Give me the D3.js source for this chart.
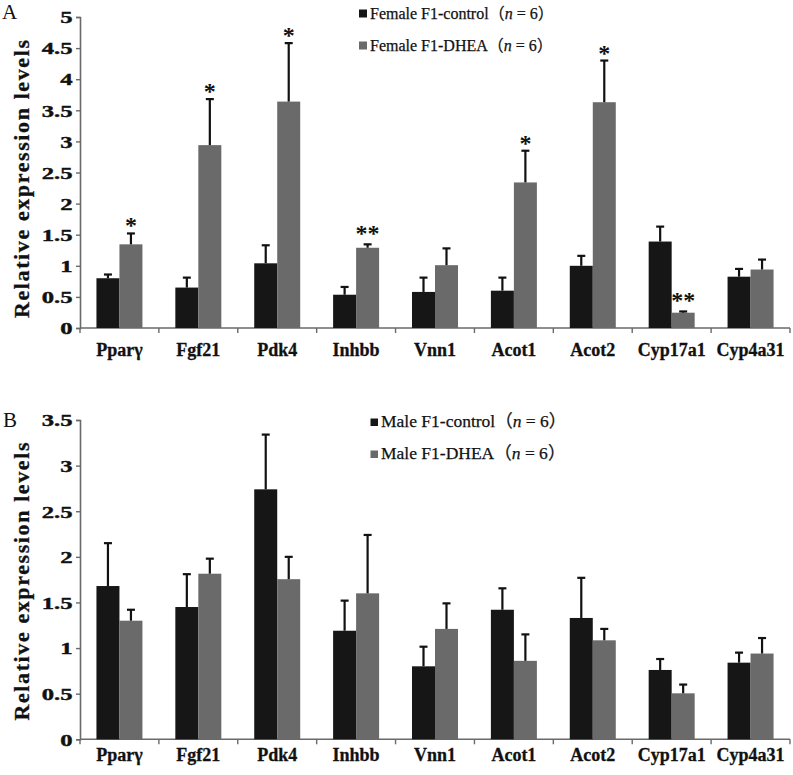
<!DOCTYPE html>
<html>
<head>
<meta charset="utf-8">
<script src="https://cdn.jsdelivr.net/npm/d3@7"></script>
<style>
  html, body { margin: 0; padding: 0; background: #fff; }
  svg { display: block; }
</style>
</head>
<body>
<svg id="chart" width="793" height="775"></svg>
<script>
// ---------------- data ----------------
const categories = ["Pparγ", "Fgf21", "Pdk4", "Inhbb", "Vnn1", "Acot1", "Acot2", "Cyp17a1", "Cyp4a31"];

// Panel A (female)
const femaleControl    = [0.80, 0.65, 1.04, 0.535, 0.58, 0.60, 1.00, 1.39, 0.825];
const femaleControlErr = [0.06, 0.16, 0.29, 0.125, 0.23, 0.21, 0.16, 0.24, 0.125];
const femaleDHEA       = [1.345, 2.94, 3.64, 1.29, 1.01, 2.34, 3.63, 0.246, 0.94];
const femaleDHEAErr    = [0.175, 0.74, 0.94, 0.055, 0.27, 0.51, 0.67, 0.02, 0.16];
const femaleStars      = ["*", "*", "*", "**", "", "*", "*", "**", ""];
const femaleTicks      = [0, 0.5, 1, 1.5, 2, 2.5, 3, 3.5, 4, 4.5, 5];
const femaleLegend     = ["Female F1-control", "Female F1-DHEA"];

// Panel B (male)
const maleControl    = [1.68, 1.45, 2.74, 1.19, 0.80, 1.42, 1.33, 0.76, 0.84];
const maleControlErr = [0.47, 0.36, 0.60, 0.33, 0.215, 0.235, 0.44, 0.12, 0.11];
const maleDHEA       = [1.30, 1.815, 1.755, 1.60, 1.21, 0.86, 1.085, 0.504, 0.94];
const maleDHEAErr    = [0.12, 0.165, 0.245, 0.64, 0.28, 0.29, 0.125, 0.096, 0.17];
const maleStars      = ["", "", "", "", "", "", "", "", ""];
const maleTicks      = [0, 0.5, 1, 1.5, 2, 2.5, 3, 3.5];
const maleLegend     = ["Male F1-control", "Male F1-DHEA"];

const sampleN = 6;
const yTitle = "Relative expression levels";

// ---------------- drawing ----------------
const svg = d3.select("#chart");
const SERIF = "'Liberation Serif', 'Times New Roman', serif";
const CJK = "'Liberation Serif', 'Noto Sans CJK SC', serif";
const colors = ["#161616", "#6a6a6a"];
const axisColor = "#6a6a6a";

function drawPanel(cfg) {
  const g = svg.append("g");
  const x = d3.scaleBand().domain(categories).range([80, 790])
    .paddingInner(0.417).paddingOuter(0.2085);
  const xs = d3.scaleBand().domain([0, 1]).range([0, x.bandwidth()]);
  const y = d3.scaleLinear().domain([0, cfg.ymax]).range([cfg.y0, cfg.y1]);

  // y axis
  const yAxis = g.append("g").attr("transform", "translate(80,0)")
    .call(d3.axisLeft(y).tickValues(cfg.ticks).tickSize(4).tickPadding(0)
      .tickFormat(d => String(d)));
  yAxis.select(".domain").attr("stroke", axisColor).attr("stroke-width", 1.6);
  yAxis.selectAll(".tick line").attr("stroke", axisColor).attr("stroke-width", 1.4);
  yAxis.selectAll(".tick text")
    .attr("fill", "#111").attr("font-family", SERIF).attr("font-weight", "bold")
    .attr("font-size", 17).attr("x", -7.5 / 1.45).attr("dy", "0.34em")
    .attr("stroke", "#111").attr("stroke-width", 0.4)
    .attr("transform", "scale(1.45,1)");

  // x axis line + boundary ticks
  const step = x.step();
  const half = (step - x.bandwidth()) / 2;
  const bounds = categories.map(c => x(c) - half).concat([x(categories[categories.length - 1]) + x.bandwidth() + half]);
  g.append("line").attr("x1", 80).attr("x2", bounds[bounds.length - 1])
    .attr("y1", y(0)).attr("y2", y(0)).attr("stroke", axisColor).attr("stroke-width", 1.6);
  g.selectAll(".xb").data(bounds).join("line")
    .attr("x1", d => d).attr("x2", d => d)
    .attr("y1", y(0)).attr("y2", y(0) + 5)
    .attr("stroke", axisColor).attr("stroke-width", 1.4);
  g.selectAll(".xl").data(categories).join("text")
    .attr("x", d => x(d) + x.bandwidth() / 2)
    .attr("y", y(0) + cfg.labelOff)
    .attr("text-anchor", "middle")
    .attr("font-family", SERIF).attr("font-weight", "bold").attr("font-size", 18)
    .attr("stroke", "#111").attr("stroke-width", 0.3)
    .attr("fill", "#111").text(d => d);

  // bars
  const series = [
    { vals: cfg.control, errs: cfg.controlErr },
    { vals: cfg.dhea, errs: cfg.dheaErr }
  ];
  series.forEach((s, si) => {
    const rows = categories.map((c, i) => ({ c, v: s.vals[i], e: s.errs[i] }));
    g.selectAll(".bar" + si).data(rows).join("rect")
      .attr("x", d => x(d.c) + xs(si))
      .attr("width", xs.bandwidth())
      .attr("y", d => y(d.v))
      .attr("height", d => y(0) - y(d.v))
      .attr("fill", colors[si]);
    // error bars (upper only)
    g.selectAll(".err" + si).data(rows).join("line")
      .attr("x1", d => x(d.c) + xs(si) + xs.bandwidth() / 2)
      .attr("x2", d => x(d.c) + xs(si) + xs.bandwidth() / 2)
      .attr("y1", d => y(d.v)).attr("y2", d => y(d.v + d.e))
      .attr("stroke", "#111").attr("stroke-width", 2.2);
    g.selectAll(".cap" + si).data(rows).join("line")
      .attr("x1", d => x(d.c) + xs(si) + xs.bandwidth() / 2 - 4)
      .attr("x2", d => x(d.c) + xs(si) + xs.bandwidth() / 2 + 4)
      .attr("y1", d => y(d.v + d.e)).attr("y2", d => y(d.v + d.e))
      .attr("stroke", "#111").attr("stroke-width", 2.2);
  });

  // significance stars (on DHEA bars)
  const starRows = categories.map((c, i) => ({ c, s: cfg.stars[i], top: cfg.dhea[i] + cfg.dheaErr[i] }))
    .filter(d => d.s);
  g.selectAll(".star").data(starRows).join("text")
    .attr("x", d => x(d.c) + xs(1) + xs.bandwidth() / 2)
    .attr("y", d => y(d.top) - (d.s.length > 1 ? 3 : 0))
    .attr("text-anchor", "middle")
    .attr("font-family", SERIF).attr("font-weight", "bold").attr("font-size", 24)
    .attr("fill", "#111").text(d => d.s);

  // y title
  g.append("text")
    .attr("transform", `translate(28.5,${cfg.titleY}) rotate(-90)`)
    .attr("text-anchor", "middle")
    .attr("font-family", SERIF).attr("font-weight", "bold").attr("font-size", 22)
    .attr("textLength", 278).attr("lengthAdjust", "spacing")
    .attr("stroke", "#111").attr("stroke-width", 0.3)
    .attr("fill", "#111").text(yTitle);

  // panel letter
  g.append("text").attr("x", cfg.letterX).attr("y", cfg.letterY)
    .attr("font-family", SERIF).attr("font-size", 21).attr("fill", "#111")
    .text(cfg.letter);

  // legend
  cfg.legend.forEach((name, i) => {
    const ly = cfg.legY[i];
    g.append("rect").attr("x", cfg.legX).attr("y", ly - cfg.sq - 1)
      .attr("width", cfg.sq).attr("height", cfg.sq).attr("fill", colors[i]);
    const t = g.append("text").attr("x", cfg.legX + cfg.sq + 3).attr("y", ly)
      .attr("font-family", CJK).attr("font-size", cfg.legSize).attr("fill", "#111")
      .attr("stroke", "#111").attr("stroke-width", 0.25);
    t.append("tspan").text(name);
    t.append("tspan").text("（");
    t.append("tspan").attr("font-style", "italic").text("n");
    t.append("tspan").text(" = " + sampleN);
    t.append("tspan").text("）");
  });
}

drawPanel({
  ymax: 5, y0: 328, y1: 17, ticks: femaleTicks,
  control: femaleControl, controlErr: femaleControlErr,
  dhea: femaleDHEA, dheaErr: femaleDHEAErr, stars: femaleStars,
  labelOff: 27.5, titleY: 179, letter: "A", letterX: 2, letterY: 19,
  legend: femaleLegend, legX: 359, legY: [18.5, 50.5], sq: 8, legSize: 16
});

drawPanel({
  ymax: 3.5, y0: 739.3, y1: 420, ticks: maleTicks,
  control: maleControl, controlErr: maleControlErr,
  dhea: maleDHEA, dheaErr: maleDHEAErr, stars: maleStars,
  labelOff: 22, titleY: 581.5, letter: "B", letterX: 3, letterY: 426.5,
  legend: maleLegend, legX: 370.5, legY: [427, 459], sq: 7.5, legSize: 17.5
});
</script>
</body>
</html>
